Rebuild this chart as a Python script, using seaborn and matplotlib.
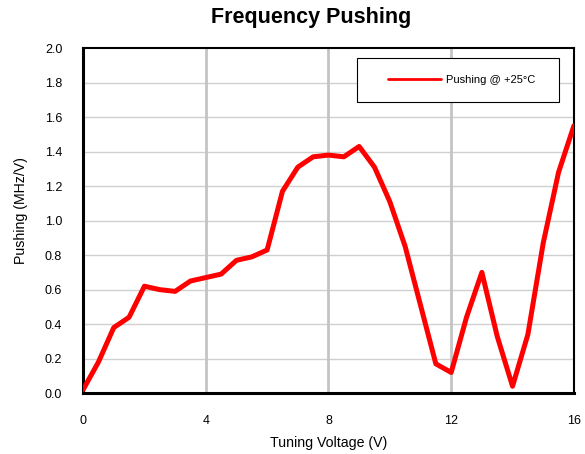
import pandas as pd
import matplotlib
matplotlib.use("Agg")
import matplotlib.pyplot as plt
from matplotlib.patches import Rectangle
import seaborn as sns

voltage = [0, 0.5, 1, 1.5, 2, 2.5, 3, 3.5, 4, 4.5, 5, 5.5, 6, 6.5, 7, 7.5, 8,
           8.5, 9, 9.5, 10, 10.5, 11, 11.5, 12, 12.5, 13, 13.5, 14, 14.5, 15, 15.5, 16]
pushing = [0.02, 0.18, 0.38, 0.44, 0.62, 0.60, 0.59, 0.65, 0.67, 0.69, 0.77, 0.79, 0.83,
           1.17, 1.31, 1.37, 1.38, 1.37, 1.43, 1.31, 1.11, 0.85, 0.51, 0.17, 0.12,
           0.44, 0.70, 0.33, 0.04, 0.34, 0.87, 1.28, 1.55]
x_ticks = [0, 4, 8, 12, 16]
y_ticks = [0.0, 0.2, 0.4, 0.6, 0.8, 1.0, 1.2, 1.4, 1.6, 1.8, 2.0]

df = pd.DataFrame({"Tuning Voltage (V)": voltage, "Pushing (MHz/V)": pushing})

sns.set_style("white")
plt.rcParams["font.family"] = ["Liberation Sans", "DejaVu Sans"]
plt.rcParams.update({"text.color": "black", "axes.labelcolor": "black",
                     "xtick.color": "black", "ytick.color": "black"})

fig = plt.figure(figsize=(5.85, 4.54), dpi=100)
ax = fig.add_axes([0.142, 0.134, 0.839, 0.76])

# light horizontal grid, heavier vertical grid
for y in y_ticks[1:-1]:
    ax.axhline(y, color="#d0d0d0", lw=1.0, zorder=0)
for x in x_ticks[1:-1]:
    ax.axvline(x, color="#c4c4c4", lw=2.0, zorder=0)

sns.lineplot(data=df, x="Tuning Voltage (V)", y="Pushing (MHz/V)", ax=ax,
             color="#ff0000", linewidth=3.6, label="Pushing @ +25°C", zorder=3)

ax.set_xlim(0, 16)
ax.set_ylim(0, 2.0)
ax.set_xticks(x_ticks)
ax.set_yticks(y_ticks)
ax.set_yticklabels([f"{v:.1f}" for v in y_ticks])
ax.tick_params(axis="both", direction="out", length=4, width=1.5, color="black",
               labelsize=9)
ax.tick_params(axis="x", pad=12)
ax.tick_params(axis="y", pad=11)
for side in ["left", "bottom"]:
    ax.spines[side].set_linewidth(2.2)
    ax.spines[side].set_color("black")
for side in ["top", "right"]:
    ax.spines[side].set_linewidth(1.5)
    ax.spines[side].set_color("black")

ax.set_xlabel("Tuning Voltage (V)", fontsize=10.2, labelpad=6)
ax.set_ylabel("Pushing (MHz/V)", fontsize=10.2)
ax.yaxis.set_label_coords(-0.112, 0.528)
fig.text(0.532, 0.962, "Frequency Pushing", fontsize=15.5, fontweight="bold",
         ha="center", va="center")

# legend box drawn as a separate frame, Excel style
ax.add_patch(Rectangle((0.558, 0.843), 0.411, 0.128, transform=ax.transAxes,
                       facecolor="white", edgecolor="black", lw=0.8, zorder=4))
leg = ax.legend(loc="center", bbox_to_anchor=(0.772, 0.907), fontsize=8,
                frameon=False, handlelength=4.8, borderpad=0,
                handletextpad=0.45, borderaxespad=0)
leg.get_lines()[0].set_linewidth(2.0)
leg.set_zorder(5)

fig.savefig("out.png", dpi=100)
plt.close(fig)
